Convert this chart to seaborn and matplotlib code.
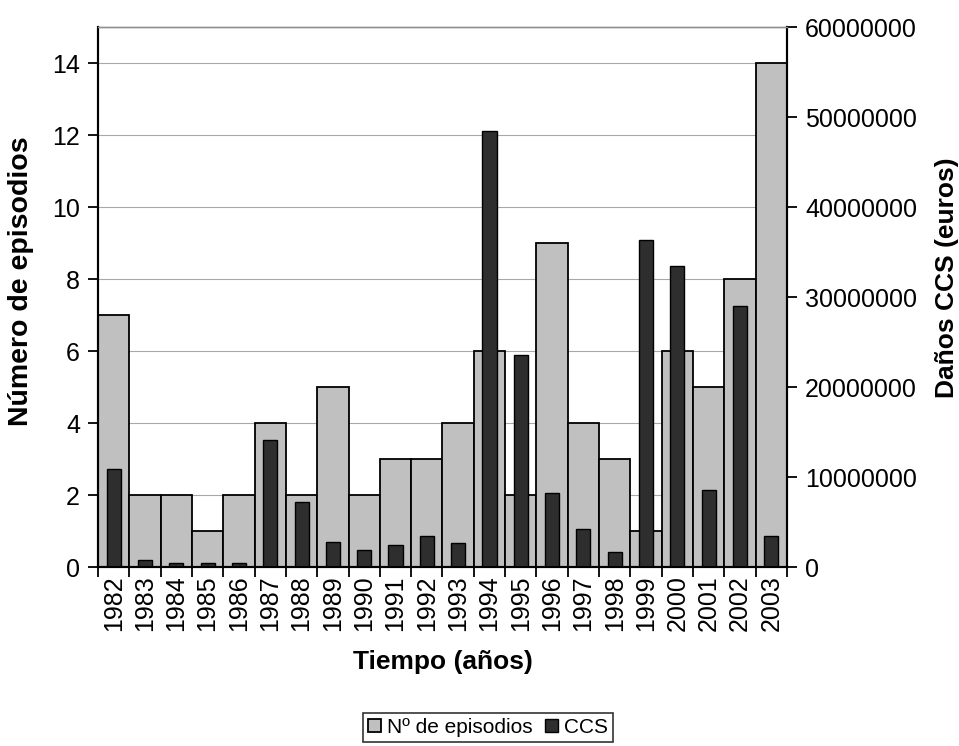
import matplotlib
matplotlib.use('Agg')
import matplotlib.pyplot as plt
from matplotlib.ticker import FuncFormatter, FixedLocator
import seaborn as sns
import pandas as pd

# data
years = ['1982', '1983', '1984', '1985', '1986', '1987', '1988', '1989', '1990', '1991', '1992',
         '1993', '1994', '1995', '1996', '1997', '1998', '1999', '2000', '2001', '2002', '2003']
episodios = [7, 2, 2, 1, 2, 4, 2, 5, 2, 3, 3, 4, 6, 2, 9, 4, 3, 1, 6, 5, 8, 14]
ccs = [10.9e6, 0.8e6, 0.4e6, 0.4e6, 0.4e6, 14.1e6, 7.2e6, 2.8e6, 1.9e6, 2.4e6, 3.5e6,
       2.7e6, 48.4e6, 23.6e6, 8.2e6, 4.2e6, 1.7e6, 36.3e6, 33.5e6, 8.6e6, 29.0e6, 3.5e6]

df = pd.DataFrame({'year': years, 'episodios': episodios, 'ccs': ccs})

sns.set_style('white')
plt.rcParams['font.family'] = ['Liberation Sans', 'DejaVu Sans']
plt.rcParams['font.size'] = 18
plt.rcParams['text.color'] = 'black'
plt.rcParams['axes.labelcolor'] = 'black'
plt.rcParams['xtick.color'] = 'black'
plt.rcParams['ytick.color'] = 'black'

fig = plt.figure(figsize=(9.59, 7.46), dpi=100)
ax = fig.add_axes([0.1022, 0.2399, 0.7184, 0.7239])

sns.barplot(data=df, x='year', y='episodios', order=years, color='#c0c0c0', saturation=1,
            width=1.0, edgecolor='black', linewidth=1.3, ax=ax, label='Nº de episodios', zorder=2)
ax.set_ylim(0, 15)
ax.set_yticks(range(0, 15, 2))
ax.yaxis.grid(True, color='#a8a8a8', linewidth=0.8, zorder=0)
ax.set_axisbelow(True)

ax2 = ax.twinx()
sns.barplot(data=df, x='year', y='ccs', order=years, color='#2e2e2e', saturation=1,
            width=0.45, edgecolor='black', linewidth=1.0, ax=ax2, label='CCS')
ax2.set_ylim(0, 60000000)
ax2.set_yticks(range(0, 60000001, 10000000))
ax2.yaxis.set_major_formatter(FuncFormatter(lambda v, p: '%d' % v))

ax.set_xlim(-0.5, len(years) - 0.5)
ax.tick_params(axis='x', which='major', length=0, labelrotation=90, pad=6, labelsize=18)
ax.xaxis.set_minor_locator(FixedLocator([i - 0.5 for i in range(len(years) + 1)]))
ax.tick_params(axis='x', which='minor', bottom=True, length=7, width=1.3, direction='out', color='black')
ax.tick_params(axis='y', left=True, length=7, width=1.3, direction='out', color='black', pad=6, labelsize=18)
ax2.tick_params(axis='y', right=True, length=7, width=1.3, direction='out', color='black', pad=6, labelsize=18)

for a in (ax, ax2):
    for side in ('left', 'right', 'bottom'):
        a.spines[side].set_color('black')
        a.spines[side].set_linewidth(1.5)
    a.spines['top'].set_color('#909090')
    a.spines['top'].set_linewidth(1.0)

ax.set_xlabel('Tiempo (años)', fontweight='bold', fontsize=19)
ax.set_ylabel('Número de episodios', fontweight='bold', fontsize=20.5)
ax2.set_ylabel('Daños CCS (euros)', fontweight='bold', fontsize=19)
ax.xaxis.set_label_coords(0.5, -0.154)
ax.yaxis.set_label_coords(-0.093, 0.53)
ax2.yaxis.set_label_coords(1.215, 0.535)

handles = ax.get_legend_handles_labels()[0] + ax2.get_legend_handles_labels()[0]
labels = ['Nº de episodios', 'CCS']
if ax.get_legend():
    ax.get_legend().remove()
if ax2.get_legend():
    ax2.get_legend().remove()
leg = fig.legend(handles, labels, loc='center', bbox_to_anchor=(0.509, 0.025), ncol=2,
                 frameon=True, fancybox=False, edgecolor='black', fontsize=15,
                 handlelength=0.6, handleheight=0.6, handletextpad=0.3, columnspacing=0.6,
                 borderpad=0.25, borderaxespad=0)
leg.get_frame().set_linewidth(1.2)

fig.savefig('out.png', dpi=100)
